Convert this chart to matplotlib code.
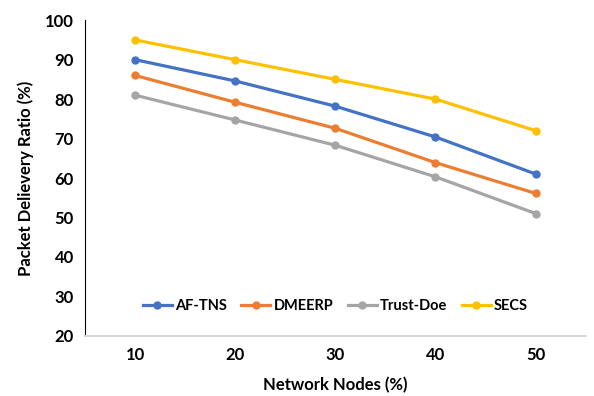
import matplotlib
matplotlib.use('Agg')
import matplotlib.pyplot as plt

nodes = [10, 20, 30, 40, 50]
af_tns = [90, 84.6, 78.2, 70.4, 61]
dmeerp = [86, 79.2, 72.6, 63.9, 56.1]
trust_doe = [81, 74.7, 68.3, 60.3, 51]
secs = [95, 90, 85, 80, 72]

series = [('AF-TNS', af_tns, '#4472C4'),
          ('DMEERP', dmeerp, '#ED7D31'),
          ('Trust-Doe', trust_doe, '#A5A5A5'),
          ('SECS', secs, '#FFC000')]

plt.rcParams['font.family'] = ['Lato', 'DejaVu Sans']
plt.rcParams['font.weight'] = 'bold'

fig = plt.figure(figsize=(5.94, 3.96), dpi=100)
ax = fig.add_axes([0.143, 0.152, 0.843, 0.797])

for name, vals, col in series:
    ax.plot(nodes, vals, color=col, lw=2.3, marker='o', ms=5, label=name)

ax.set_xlim(5, 55)
ax.set_ylim(20, 100)
ax.set_xticks(nodes)
ax.set_yticks(range(20, 101, 10))
ax.tick_params(length=0, labelsize=12, pad=8)
for lbl in ax.get_xticklabels() + ax.get_yticklabels():
    lbl.set_fontweight('bold')

ax.spines['top'].set_visible(False)
ax.spines['right'].set_visible(False)
ax.spines['left'].set_color('black')
ax.spines['bottom'].set_color('#d9d9d9')
ax.spines['bottom'].set_linewidth(1.5)

ax.set_xlabel('Network Nodes (%)', fontsize=12, fontweight='bold', labelpad=10)
ax.set_ylabel('Packet Delievery Ratio (%)', fontsize=12, fontweight='bold', labelpad=8)

leg = ax.legend(loc='lower center', bbox_to_anchor=(0.5, 0.03), ncol=4, frameon=False,
                handlelength=2.0, columnspacing=1.0, handletextpad=0.2,
                prop={'weight': 'bold', 'size': 10.5})

fig.savefig('out.png', dpi=100)
